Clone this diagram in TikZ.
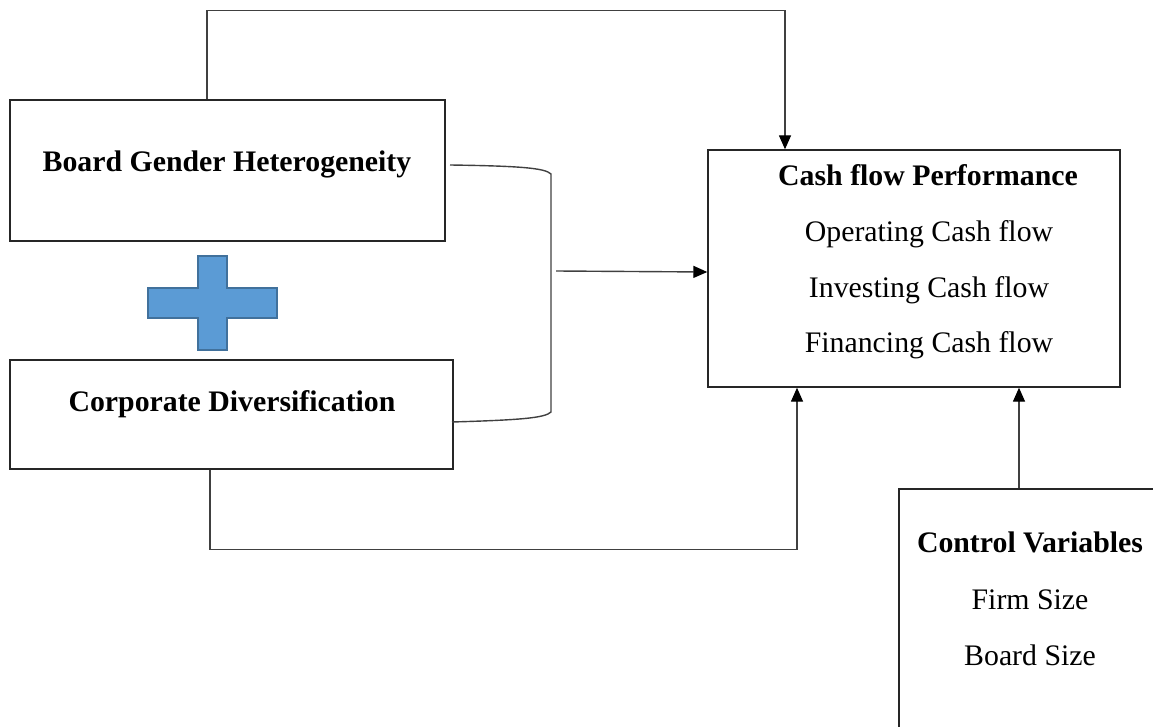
\documentclass[tikz,border=0pt]{standalone}
\usepackage{fontspec}
\setmainfont{Liberation Serif}
\usetikzlibrary{arrows.meta}
\definecolor{plusfill}{HTML}{5B9BD5}
\definecolor{plusline}{HTML}{41719C}
\definecolor{linegray}{HTML}{404040}
\begin{document}
\begin{tikzpicture}[x=1pt,y=-1pt,
  box/.style={draw=black!85,line width=1.4pt,inner sep=0pt},
  lbl/.style={font=\fontsize{29.8}{34}\selectfont,inner sep=0pt,anchor=base},
  blbl/.style={lbl,font=\fontsize{29.8}{34}\selectfont\bfseries},
  conn/.style={draw=linegray,line width=1.4pt},
  arr/.style={conn,-{Triangle[length=14pt,width=12pt,fill=black,color=black]}}]
\useasboundingbox (0,0) rectangle (1153,727);
\clip (0,0) rectangle (1153,727);
% boxes
\node[box,minimum width=435pt,minimum height=141pt] (board) at (227.5,170.5) {};
\node[box,minimum width=443pt,minimum height=109pt] (corp) at (231.5,414.5) {};
\node[box,minimum width=412pt,minimum height=237pt] (cash) at (914,268.5) {};
\node[box,minimum width=262pt,minimum height=260pt] (ctrl) at (1030,619) {};
% texts
\node[blbl] (tboard) at (227,172) {Board Gender Heterogeneity};
\node[blbl] (tcorp) at (232,411) {Corporate Diversification};
\node[blbl] (tcash) at (928,186) {Cash flow Performance};
\node[lbl] (top) at (929,242) {Operating Cash flow};
\node[lbl] (tinv) at (929,298) {Investing Cash flow};
\node[lbl] (tfin) at (929,352) {Financing Cash flow};
\node[blbl] (tctrl) at (1030,552) {Control Variables};
\node[lbl] (tfirm) at (1030,609) {Firm Size};
\node[lbl] (tbsize) at (1030,665) {Board Size};
% plus sign
\fill[plusfill,draw=plusline,line width=1.2pt]
  (198,256) -- (227,256) -- (227,288) -- (277,288) -- (277,318) -- (227,318)
  -- (227,350) -- (198,350) -- (198,318) -- (148,318) -- (148,288) -- (198,288) -- cycle;
% connectors
\draw[arr] ([xshift=-20.5pt]board.north) -- ++(0,-89) -| ([xshift=-129pt]cash.north);
\draw[arr] ([xshift=-21.5pt]corp.south) -- ++(0,80) -| ([xshift=-117pt]cash.south);
\draw[arr] ([xshift=-11pt]ctrl.north) -- ([xshift=105pt]cash.south);
\coordinate (bt) at (450,165);
\coordinate (bb) at (452,422);
\coordinate (bm) at (556,271);
\draw[conn] (bt) .. controls (520,166) and (545,168) .. (551,174) -- (551,412)
  .. controls (545,418) and (520,420) .. (bb);
\draw[arr] (bm) -- ([yshift=-3.5pt]cash.west);
\end{tikzpicture}
\end{document}
